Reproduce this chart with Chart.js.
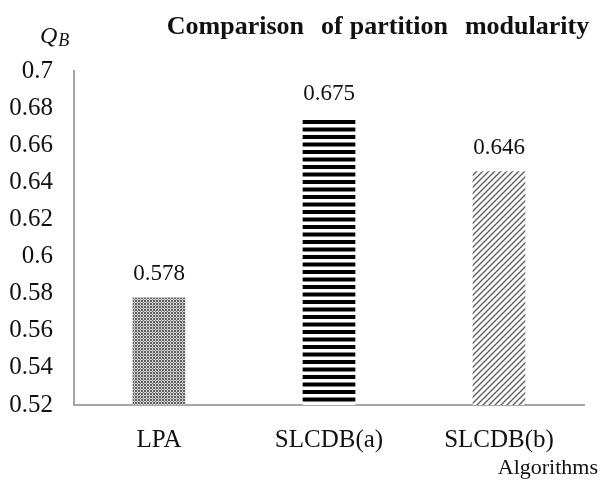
<!DOCTYPE html>
<html>
<head>
<meta charset="utf-8">
<script src="https://cdn.jsdelivr.net/npm/chart.js@4"></script>
<style>
html,body{margin:0;padding:0;background:#fff;}
#wrap{width:601px;height:483px;position:relative;}
</style>
</head>
<body>
<div id="wrap"><canvas id="c" width="601" height="483"></canvas></div>
<script>
const categories = ["LPA", "SLCDB(a)", "SLCDB(b)"];
const modularity = [0.578, 0.675, 0.646];
const yTicks = [0.52, 0.54, 0.56, 0.58, 0.6, 0.62, 0.64, 0.66, 0.68, 0.7];
const titleText = "Comparison of partition modularity";
const xTitle = "Algorithms";

const SERIF = "'Liberation Serif', 'Times New Roman', serif";

function makePattern(kind) {
  const c = document.createElement('canvas');
  const g = c.getContext('2d');
  if (kind === 'dots') {
    c.width = 3; c.height = 3;
    g.fillStyle = '#d8d8d8'; g.fillRect(0,0,3,3);
    g.fillStyle = '#5e5e5e'; g.fillRect(0,0,2,2);
    g.fillStyle = '#8a8a8a'; g.fillRect(2,2,1,1);
  } else if (kind === 'hstripes') {
    c.width = 8; c.height = 15;
    g.fillStyle = '#ffffff'; g.fillRect(0,0,8,15);
    g.fillStyle = '#000000';
    g.fillRect(0,0,8,4);
    g.fillRect(0,7.5,8,4);
  } else {
    c.width = 6; c.height = 6;
    g.fillStyle = '#ffffff'; g.fillRect(0,0,6,6);
    g.strokeStyle = '#5a5a5a'; g.lineWidth = 1.3;
    g.beginPath();
    g.moveTo(-1, 7); g.lineTo(7, -1);
    g.moveTo(-7, 7); g.lineTo(1, -1);
    g.moveTo(5, 7); g.lineTo(13, -1);
    g.stroke();
  }
  return document.getElementById('c').getContext('2d').createPattern(c, 'repeat');
}

const patterns = [makePattern('dots'), makePattern('hstripes'), makePattern('diag')];

const extras = {
  id: 'extras',
  afterDatasetsDraw(chart) {
    const ctx = chart.ctx;
    const meta = chart.getDatasetMeta(0);
    ctx.save();
    ctx.fillStyle = '#111';
    ctx.font = '23px ' + SERIF;
    ctx.textAlign = 'center';
    ctx.textBaseline = 'middle';
    meta.data.forEach((bar, i) => {
      ctx.fillText(modularity[i].toFixed(3), bar.x, bar.y - 23);
    });
    ctx.font = 'bold 26px ' + SERIF;
    ctx.textAlign = 'left';
    const words = titleText.split(' ');
    const gaps = [17, 7, 17];
    let total = 0;
    words.forEach((w, i) => { total += ctx.measureText(w).width + (i < gaps.length ? gaps[i] : 0); });
    let x = 378 - total / 2;
    words.forEach((w, i) => {
      ctx.fillText(w, x, 27);
      x += ctx.measureText(w).width + (i < gaps.length ? gaps[i] : 0);
    });
    ctx.font = '22px ' + SERIF;
    ctx.textAlign = 'right';
    ctx.fillText(xTitle, 598, 468);
    ctx.textAlign = 'left';
    ctx.font = 'italic 24px ' + SERIF;
    ctx.fillText('Q', 40, 37);
    const qw = ctx.measureText('Q').width;
    ctx.font = 'italic 18px ' + SERIF;
    ctx.fillText('B', 40 + qw + 1, 41);
    ctx.restore();
  }
};

new Chart(document.getElementById('c'), {
  type: 'bar',
  data: {
    labels: categories,
    datasets: [{
      data: modularity,
      backgroundColor: patterns,
      borderWidth: 0,
      categoryPercentage: 1,
      barPercentage: 0.31
    }]
  },
  options: {
    responsive: false,
    animation: false,
    devicePixelRatio: 1,
    layout: { padding: { top: 71, right: 17, left: 0, bottom: 0 } },
    plugins: { legend: { display: false }, tooltip: { enabled: false }, title: { display: false } },
    scales: {
      x: {
        grid: { display: false },
        border: { display: true, color: '#a6a6a6', width: 2 },
        ticks: { color: '#111', font: { family: SERIF, size: 25 }, padding: 12 },
        afterFit(s) { s.height = 78; }
      },
      y: {
        min: 0.52, max: 0.7,
        afterBuildTicks(s) { s.ticks = yTicks.map(v => ({ value: v })); },
        grid: { display: false },
        border: { display: true, color: '#a6a6a6', width: 2 },
        ticks: {
          color: '#111', font: { family: SERIF, size: 25 }, padding: 13,
          callback: v => String(parseFloat(v.toFixed(2)))
        },
        afterFit(s) { s.width = 74; }
      }
    }
  },
  plugins: [extras]
});
</script>
</body>
</html>
